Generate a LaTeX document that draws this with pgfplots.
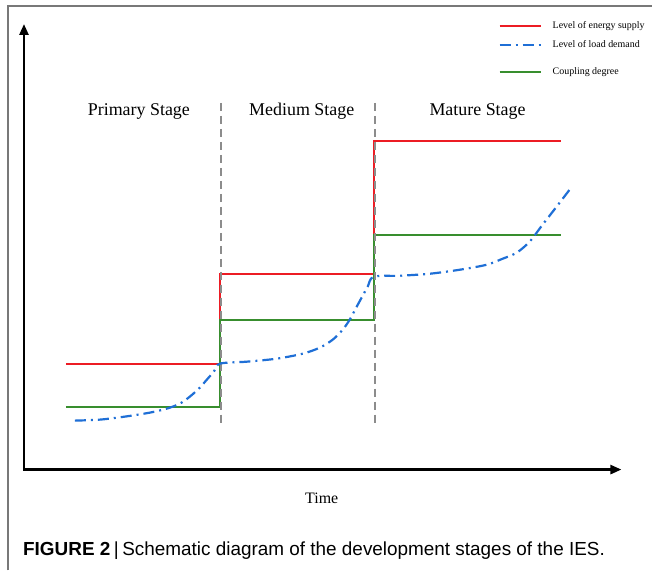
\documentclass[border=0pt]{standalone}
\usepackage{pgfplots}
\pgfplotsset{compat=1.18}
\usepackage{fontspec}
\setmainfont{Liberation Serif}
\newfontfamily\capfont{Liberation Sans}
\usetikzlibrary{arrows.meta}
\definecolor{cred}{RGB}{236,28,36}
\definecolor{cblue}{RGB}{31,111,214}
\definecolor{cgreen}{RGB}{56,142,46}
\definecolor{cgray}{RGB}{140,140,140}
\definecolor{cframe}{RGB}{120,120,120}
\begin{document}
\begin{tikzpicture}
\begin{axis}[x=1bp,y=1bp,y dir=reverse,
  xmin=0,xmax=653,ymin=0,ymax=571,
  hide axis, clip=false, enlargelimits=false]
\path (axis cs:0,0) rectangle (axis cs:653,571);
% frame
\draw[cframe, line width=1.2bp] (axis cs:8,571) -- (axis cs:8,6) -- (axis cs:653,6);
% axes
\draw[black, line width=2.5bp, line join=miter,
  {Triangle[length=11bp,width=9bp]}-{Triangle[length=11bp,width=9bp]}]
  (axis cs:24,24) -- (axis cs:24,470) -- (axis cs:622,470);
% series
\addplot[cred, line width=2.2bp] coordinates {(66,364)(220,364)(220,274)(374,274)(374,141)(562,141)};
\addplot[cgreen, line width=2.2bp] coordinates {(66,407)(220,407)(220,320)(374,320)(374,235)(562,235)};
% stage separators
\draw[cgray, line width=2.3bp, dash pattern=on 8bp off 5bp] (axis cs:221,103) -- (axis cs:221,428);
\draw[cgray, line width=2.3bp, dash pattern=on 8bp off 5bp] (axis cs:375,103) -- (axis cs:375,428);
\addplot[cblue, line width=2.2bp, smooth, dash pattern=on 11bp off 5bp on 2bp off 5bp] coordinates {
(75,421)(100,420)(125,417)(150,413)(167,409)(180,404)(190,397)(200,388)(207,380)(214,372)(220,364)
(247,362)(277,359)(303,354)(320,348)(333,340)(343,330)(350,320)(357,307)(363,296)(368,287)(374,277)
(400,276)(430,274)(460,270)(487,265)(503,259)(517,253)(530,242)(543,225)(557,207)(570,190)};
% stage labels
\node[anchor=base, font=\fontsize{18}{20}\selectfont] at (axis cs:139,115.5) {Primary Stage};
\node[anchor=base, font=\fontsize{18}{20}\selectfont] at (axis cs:302,115.5) {Medium Stage};
\node[anchor=base, font=\fontsize{18}{20}\selectfont] at (axis cs:478,115.5) {Mature Stage};
\node[anchor=base, font=\fontsize{16}{18}\selectfont] at (axis cs:322,504) {Time};
% legend
\draw[cred, line width=2bp] (axis cs:500,26) -- (axis cs:541,26);
\draw[cblue, line width=2bp, dash pattern=on 11bp off 5bp on 2bp off 5bp] (axis cs:500,45) -- (axis cs:541,45);
\draw[cgreen, line width=2bp] (axis cs:500,72) -- (axis cs:541,72);
\node[anchor=base west, inner sep=0pt, font=\fontsize{10}{12}\selectfont] at (axis cs:553,29) {Level of energy supply};
\node[anchor=base west, inner sep=0pt, font=\fontsize{10}{12}\selectfont] at (axis cs:553,48) {Level of load demand};
\node[anchor=base west, inner sep=0pt, font=\fontsize{10}{12}\selectfont] at (axis cs:553,75) {Coupling degree};
% caption
\node[anchor=base west, inner sep=0pt, font=\capfont\fontsize{19}{21}\selectfont] at (axis cs:23,556) {\textbf{FIGURE 2}\hspace{3.5bp}|\hspace{3.5bp}Schematic diagram of the development stages of the IES.};
\end{axis}
\end{tikzpicture}
\end{document}
